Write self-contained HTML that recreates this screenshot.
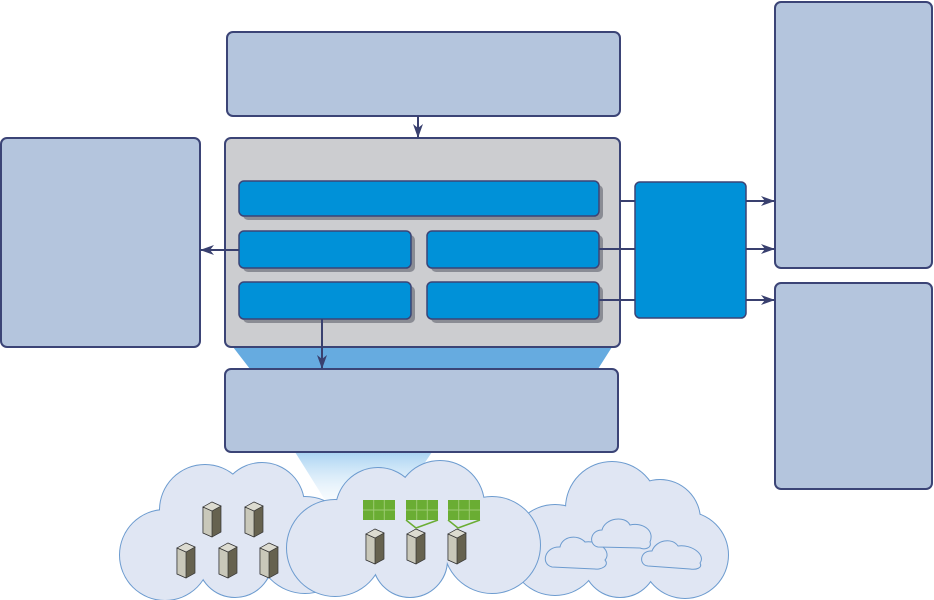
<!DOCTYPE html>
<html><head><meta charset="utf-8"><style>html,body{margin:0;padding:0;background:#fff}svg{display:block}</style></head>
<body>
<svg width="934" height="600" viewBox="0 0 934 600" xmlns="http://www.w3.org/2000/svg">
<defs>
<marker id="ar" markerWidth="14" markerHeight="10" refX="13" refY="5" orient="auto" markerUnits="userSpaceOnUse"><path d="M0,0 L14,5 L0,10 L4,5 z" fill="#39406f"/></marker>
<linearGradient id="lg" x1="0" y1="0" x2="0" y2="1"><stop offset="0" stop-color="#a9d3f2"/><stop offset="1" stop-color="#e4f1fb" stop-opacity="0.3"/></linearGradient>
<g id="srv"><path d="M0,5 L9,0 L18,4 L18,30 L9,35 L0,31 z" fill="#66624f" stroke="#333" stroke-width="0.7"/><path d="M0,5 L9,9 L9,35 L0,31 z" fill="#c9c8ba" stroke="#333" stroke-width="0.7"/><path d="M0,5 L9,0 L18,4 L9,9 z" fill="#dcdbd0" stroke="#333" stroke-width="0.7"/></g>
<g id="grn"><rect x="0" y="0" width="32" height="20" fill="#6aad33"/><path d="M10.7,0V20M21.3,0V20M0,10H32" stroke="#9ccb70" stroke-width="1"/></g>
<g id="c1"><circle cx="165" cy="555" r="45"/><circle cx="205" cy="510" r="45"/><circle cx="262" cy="505" r="42"/><circle cx="305" cy="545" r="48"/><circle cx="235" cy="560" r="37"/></g>
<g id="c3"><circle cx="555" cy="550" r="45"/><circle cx="612" cy="508" r="46"/><circle cx="660" cy="520" r="40"/><circle cx="685" cy="555" r="43"/><circle cx="620" cy="560" r="37"/></g>
<g id="c2"><circle cx="335" cy="548" r="48"/><circle cx="378" cy="510" r="42"/><circle cx="440" cy="505" r="44"/><circle cx="492" cy="545" r="48"/><circle cx="410" cy="560" r="37"/></g>
</defs>
<polygon points="233,347 612,347 598,369 250,369" fill="#66abe0"/>
<polygon points="295,452 432,452 400,500 325,500" fill="url(#lg)"/>
<g stroke="#6c9bcf" stroke-width="2" fill="#6c9bcf"><use href="#c1"/></g><g fill="#e0e6f3"><use href="#c1"/></g>
<g stroke="#6c9bcf" stroke-width="2" fill="#6c9bcf"><use href="#c3"/></g><g fill="#e0e6f3"><use href="#c3"/></g>
<g stroke="#6c9bcf" stroke-width="2" fill="#6c9bcf"><use href="#c2"/></g><g fill="#e0e6f3"><use href="#c2"/></g>
<g fill="#e0e6f3" stroke="#6c9bcf" stroke-width="1">
<path d="M552,567 C540,564 545,546 560,547 C562,536 578,534 585,542 C600,540 612,552 605,560 C610,566 600,570 595,569 Z"/>
<path d="M598,547 C588,545 590,530 602,530 C605,518 625,515 630,525 C642,522 655,530 650,542 C652,548 645,550 640,548 Z"/>
<path d="M648,566 C638,565 640,550 652,551 C656,540 672,537 678,546 C692,544 706,555 700,563 C703,568 696,570 690,569 Z"/>
</g>
<use href="#srv" x="203" y="502"/><use href="#srv" x="245" y="502"/>
<use href="#srv" x="177" y="543"/><use href="#srv" x="219" y="543"/><use href="#srv" x="260" y="543"/>
<use href="#grn" x="363" y="500"/><use href="#grn" x="406" y="500"/><use href="#grn" x="448" y="500"/>
<use href="#srv" x="366" y="529"/><use href="#srv" x="407" y="529"/><use href="#srv" x="448" y="529"/>
<path d="M406,520 L416,528 L438,520 M448,520 L458,528 L480,520" stroke="#6aad33" stroke-width="1.5" fill="none"/>
<g stroke="#3b4476" stroke-width="2">
<rect x="227" y="32" width="393" height="84" rx="6" fill="#b4c5dd"/>
<rect x="1" y="138" width="199" height="209" rx="6" fill="#b4c5dd"/>
<rect x="775" y="2" width="157" height="266" rx="6" fill="#b4c5dd"/>
<rect x="775" y="283" width="157" height="206" rx="6" fill="#b4c5dd"/>
<rect x="225" y="138" width="395" height="209" rx="6" fill="#cccdd0"/>
<rect x="225" y="369" width="393" height="83" rx="6" fill="#b4c5dd"/>
</g>
<g fill="#8a8c94"><rect x="243" y="185" width="360" height="35" rx="5"/><rect x="243" y="235" width="172" height="37" rx="5"/><rect x="431" y="235" width="172" height="37" rx="5"/><rect x="243" y="286" width="172" height="37" rx="5"/><rect x="431" y="286" width="172" height="37" rx="5"/></g>
<g fill="#0091d8" stroke="#3b4476" stroke-width="1.5">
<rect x="239" y="181" width="360" height="35" rx="5"/>
<rect x="239" y="231" width="172" height="37" rx="5"/><rect x="427" y="231" width="172" height="37" rx="5"/>
<rect x="239" y="282" width="172" height="37" rx="5"/><rect x="427" y="282" width="172" height="37" rx="5"/>
<rect x="635" y="182" width="111" height="136" rx="5"/>
</g>
<g stroke="#39406f" stroke-width="2" fill="none">
<line x1="418" y1="116" x2="418" y2="137" marker-end="url(#ar)"/>
<line x1="239" y1="250" x2="201" y2="250" marker-end="url(#ar)"/>
<line x1="322" y1="319" x2="322" y2="368" marker-end="url(#ar)"/>
<line x1="620" y1="201" x2="635" y2="201"/>
<line x1="599" y1="249" x2="635" y2="249"/>
<line x1="599" y1="300" x2="635" y2="300"/>
<line x1="746" y1="201" x2="774" y2="201" marker-end="url(#ar)"/>
<line x1="746" y1="249" x2="774" y2="249" marker-end="url(#ar)"/>
<line x1="746" y1="300" x2="774" y2="300" marker-end="url(#ar)"/>
</g>
</svg>
</body></html>
